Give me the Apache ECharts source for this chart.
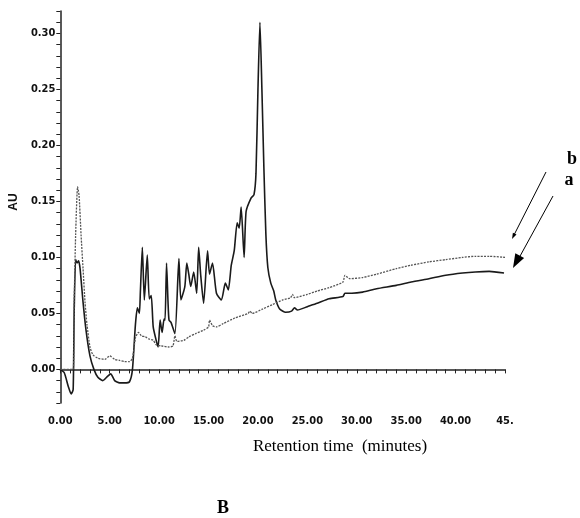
<!DOCTYPE html>
<html><head><meta charset="utf-8">
<script src="https://cdn.jsdelivr.net/npm/echarts@6/dist/echarts.min.js"></script>
<style>html,body{margin:0;padding:0;background:#fff}#c{width:580px;height:518px}</style>
</head><body><div id="c"></div>
<script>
// Trace a (solid, sample) – retention time (min) and absorbance (AU)
var timesA = [0.0,0.4,0.8,1.1,1.3,1.4,1.55,1.7,1.85,2.0,2.3,2.6,3.0,3.4,3.8,4.3,4.8,5.1,5.5,6.0,6.5,7.0,7.3,7.6,7.8,8.0,8.1,8.3,8.5,8.8,9.0,9.2,9.4,9.7,9.9,10.1,10.3,10.5,10.6,10.75,10.9,11.0,11.2,11.6,12.0,12.2,12.6,12.8,13.0,13.2,13.5,13.8,14.0,14.2,14.5,14.9,15.1,15.4,15.8,16.3,16.7,17.0,17.3,17.6,17.9,18.1,18.3,18.6,18.8,19.3,19.6,19.8,20.0,20.2,20.4,20.6,20.8,21.0,21.3,21.6,21.8,22.2,22.8,23.4,23.7,24.0,25.0,26.0,27.2,28.6,28.8,29.5,30.6,32.0,34.0,35.5,37.3,39.0,40.7,42.0,43.4,44.9];
var valuesA = [0.000,-0.003,-0.015,-0.022,-0.018,0.050,0.098,0.095,0.097,0.090,0.060,0.035,0.012,0.000,-0.007,-0.010,-0.006,-0.004,-0.010,-0.012,-0.012,-0.011,0.000,0.040,0.055,0.050,0.069,0.109,0.062,0.102,0.063,0.066,0.038,0.026,0.020,0.044,0.033,0.045,0.044,0.095,0.060,0.044,0.042,0.032,0.099,0.062,0.074,0.095,0.085,0.074,0.087,0.068,0.109,0.085,0.059,0.106,0.085,0.095,0.068,0.062,0.077,0.071,0.093,0.106,0.131,0.126,0.145,0.100,0.141,0.153,0.156,0.175,0.250,0.310,0.250,0.180,0.121,0.091,0.077,0.070,0.062,0.054,0.051,0.052,0.055,0.053,0.056,0.059,0.063,0.065,0.068,0.068,0.069,0.072,0.075,0.078,0.081,0.084,0.086,0.087,0.0875,0.086];
// Trace b (dotted, reference)
var timesB = [0.0,1.3,1.4,1.55,1.75,1.9,2.1,2.3,2.5,2.7,3.0,3.3,3.8,4.5,5.0,5.5,6.0,6.5,7.0,7.3,7.6,7.9,8.2,8.6,9.0,9.4,9.7,10.2,11.0,11.4,11.6,11.8,12.5,13.0,13.7,14.5,15.0,15.1,15.4,15.8,16.5,17.7,19.0,19.2,19.4,20.5,21.5,22.5,23.3,23.5,23.7,25.0,26.0,27.2,28.6,28.8,29.3,30.6,32.0,34.0,35.5,37.3,39.0,40.7,42.0,43.4,45.0];
var valuesB = [0.000,0.000,0.060,0.120,0.163,0.155,0.120,0.090,0.060,0.040,0.020,0.013,0.010,0.009,0.012,0.009,0.008,0.007,0.007,0.010,0.028,0.033,0.030,0.029,0.027,0.026,0.022,0.021,0.020,0.021,0.030,0.025,0.026,0.029,0.032,0.035,0.038,0.044,0.039,0.038,0.041,0.046,0.050,0.052,0.050,0.054,0.058,0.062,0.064,0.067,0.064,0.067,0.070,0.073,0.078,0.084,0.081,0.082,0.085,0.090,0.093,0.096,0.098,0.100,0.101,0.101,0.100];
var xTickLabels = {0:'0.00',5:'5.00',10:'10.00',15:'15.00',20:'20.00',25:'25.00',30:'30.00',35:'35.00',40:'40.00',45:'45.'};
var yTickLabels = ['0.00','0.05','0.10','0.15','0.20','0.25','0.30'];

function pairs(t, v){ return t.map(function(x,i){ return [x, v[i]]; }); }
var fam = '"Liberation Sans Narrow","DejaVu Sans Condensed",sans-serif';

var chart = echarts.init(document.getElementById('c'), null, {renderer:'canvas'});
chart.setOption({
  animation:false,
  backgroundColor:'#fff',
  grid:{left:57, right:75, top:11, bottom:115},
  xAxis:{type:'value', min:0, max:45, interval:1,
    axisLine:{show:true, lineStyle:{color:'#222', width:1.5}},
    axisTick:{show:true, length:4, lineStyle:{color:'#222'}},
    splitLine:{show:false},
    axisLabel:{margin:13, fontFamily:fam, fontWeight:'bold', fontSize:11, color:'#111',
      formatter:function(v){ var k=Math.round(v); return (Math.abs(v-k)<1e-6 && xTickLabels[k]!==undefined)? xTickLabels[k] : ''; }}
  },
  yAxis:{type:'value', min:-0.03, max:0.32, interval:0.01,
    name:'AU', nameLocation:'middle', nameGap:33, nameRotate:90,
    nameTextStyle:{fontFamily:'"Liberation Sans","DejaVu Sans",sans-serif', fontWeight:'bold', fontSize:12, color:'#111', padding:[0,0,0,10]},
    axisLine:{show:true, lineStyle:{color:'#222', width:1.5}},
    axisTick:{show:true, length:4, lineStyle:{color:'#222'}},
    splitLine:{show:false},
    axisLabel:{margin:5, fontFamily:fam, fontWeight:'bold', fontSize:11, color:'#111',
      formatter:function(v){ var s=v.toFixed(2); var k=Math.round(v*100); return (k>=0 && k%5===0 && yTickLabels.indexOf(s)>=0) ? s : ''; }}
  },
  series:[
    {name:'a', type:'line', data:pairs(timesA, valuesA), showSymbol:false, smooth:0.2,
      lineStyle:{color:'#1a1a1a', width:1.6}},
    {name:'b', type:'line', data:pairs(timesB, valuesB), showSymbol:false, smooth:0.2,
      lineStyle:{color:'#555', width:1.3, type:[2,1.2]}}
  ],
  graphic:[
    {type:'text', x:340, y:447, style:{text:'Retention time  (minutes)', font:'17px "Liberation Serif","Times New Roman",serif', fill:'#000', textAlign:'center', textVerticalAlign:'middle'}},
    {type:'text', x:223, y:508, style:{text:'B', font:'bold 18px "Liberation Serif","Times New Roman",serif', fill:'#000', textAlign:'center', textVerticalAlign:'middle'}},
    {type:'text', x:572, y:159, style:{text:'b', font:'bold 18px "Liberation Serif","Times New Roman",serif', fill:'#000', textAlign:'center', textVerticalAlign:'middle'}},
    {type:'text', x:569, y:180, style:{text:'a', font:'bold 18px "Liberation Serif","Times New Roman",serif', fill:'#000', textAlign:'center', textVerticalAlign:'middle'}},
    {type:'line', shape:{x1:546, y1:172, x2:514, y2:235}, style:{stroke:'#000', lineWidth:1}},
    {type:'polygon', shape:{points:[[512,239],[516.5,234.5],[512.9,232.7]]}, style:{fill:'#000'}},
    {type:'line', shape:{x1:553, y1:196, x2:519, y2:258}, style:{stroke:'#000', lineWidth:1}},
    {type:'polygon', shape:{points:[[513,268],[524.1,258.1],[515.3,253.3]]}, style:{fill:'#000'}}
  ]
});
</script>
</body></html>
